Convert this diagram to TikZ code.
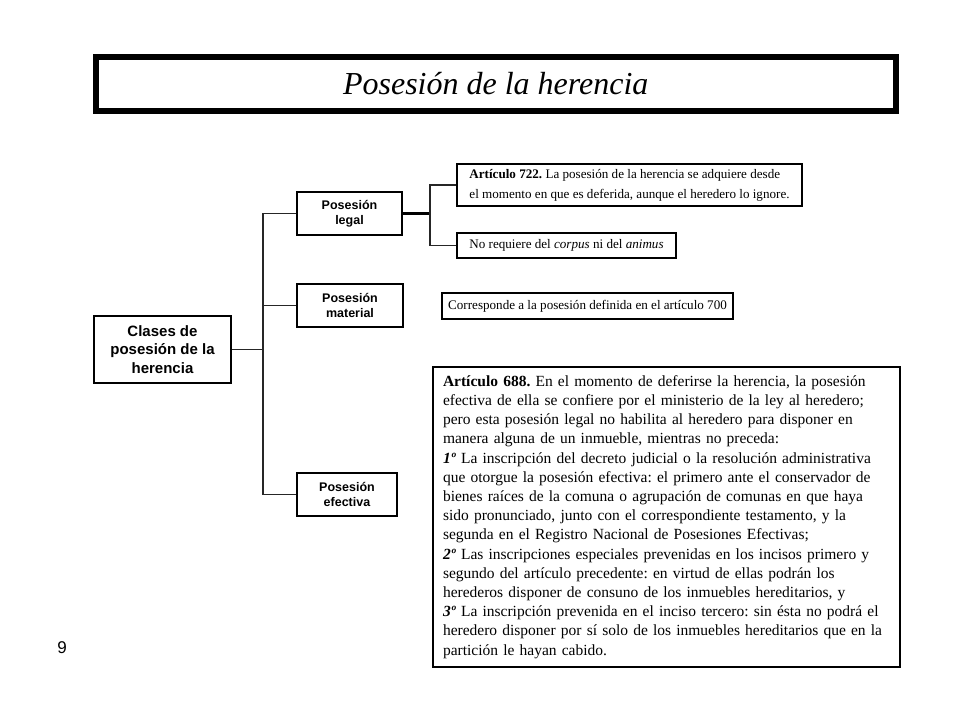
\documentclass[tikz,border=0pt]{standalone}
\usepackage{fontspec}
\setmainfont{Liberation Serif}
\setsansfont{Liberation Sans}
\frenchspacing
\begin{document}
\begin{tikzpicture}[x=1pt,y=-1pt,
  box/.style={draw=black,line width=1.2pt,fill=white,inner sep=0pt,align=center},
  sbox/.style={box,font=\sffamily\bfseries\fontsize{12.5}{15.5}\selectfont},
  tbox/.style={box,font=\fontsize{13.1}{16.5}\selectfont},
  conn/.style={line width=1.2pt,draw=black!85}
]
\useasboundingbox (0,0) rectangle (960,720);
% title
\node[draw=black,line width=6pt,minimum width=800.5pt,minimum height=53.5pt,inner sep=0pt,
      font=\itshape\fontsize{32}{36}\selectfont] (title) at (495.75,83.75) {Posesión de la herencia};
% left nodes
\node[box,font=\sffamily\bfseries\fontsize{15}{18.5}\selectfont,minimum width=137pt,minimum height=67pt] (clases) at (162.5,349.5) {Clases de\\posesión de la\\herencia};
\node[sbox,minimum width=105pt,minimum height=43pt] (legal) at (349.5,213.5) {Posesión\\legal};
\node[sbox,minimum width=106pt,minimum height=43pt] (material) at (350,305.5) {Posesión\\material};
\node[sbox,minimum width=100pt,minimum height=43pt] (efectiva) at (347,494.5) {Posesión\\efectiva};
% right nodes
\node[tbox,align=left,minimum width=345pt,minimum height=42pt,
      font=\fontsize{13.1}{20}\selectfont] (a722) at (629.5,185)
  {\textbf{Artículo 722.} La posesión de la herencia se adquiere desde\\el momento en que es deferida, aunque el heredero lo ignore.};
\node[tbox,minimum width=219pt,minimum height=25pt] (noreq) at (566.5,245.5)
  {No requiere del \textit{corpus} ni del \textit{animus}};
\node[tbox,minimum width=291pt,minimum height=26pt] (corr) at (587.5,306)
  {Corresponde a la posesión definida en el artículo 700};
\node[box,align=left,text width=447pt,inner xsep=10pt,minimum height=300pt,
      font=\fontsize{15.5}{19.2}\selectfont] (a688) at (666.5,517)
  {\textbf{Artículo 688.} En el momento de deferirse la herencia, la posesión\\
   efectiva de ella se confiere por el ministerio de la ley al heredero;\\
   pero esta posesión legal no habilita al heredero para disponer en\\
   manera alguna de un inmueble, mientras no preceda:\\
   \textbf{\textit{1º}} La inscripción del decreto judicial o la resolución administrativa\\
   que otorgue la posesión efectiva: el primero ante el conservador de\\
   bienes raíces de la comuna o agrupación de comunas en que haya\\
   sido pronunciado, junto con el correspondiente testamento, y la\\
   segunda en el Registro Nacional de Posesiones Efectivas;\\
   \textbf{\textit{2º}} Las inscripciones especiales prevenidas en los incisos primero y\\
   segundo del artículo precedente: en virtud de ellas podrán los\\
   herederos disponer de consuno de los inmuebles hereditarios, y\\
   \textbf{\textit{3º}} La inscripción prevenida en el inciso tercero: sin ésta no podrá el\\
   heredero disponer por sí solo de los inmuebles hereditarios que en la\\
   partición le hayan cabido.};
% page number
\node[font=\sffamily\fontsize{17}{20}\selectfont,inner sep=0pt] (pnum) at (62,648) {9};
% connectors
\coordinate (tk) at (263,349.5);
\coordinate (lb) at (430,213.5);
\draw[conn] (clases.east) -- (tk);
\draw[conn] (legal.west) -| (tk);
\draw[conn] (efectiva.west) -| (tk);
\draw[conn] (material.west) -- (material.west -| tk);
\draw[line width=2.2pt] (legal.east) -- (lb);
\draw[conn] (a722.west) -| (lb);
\draw[conn] (noreq.west) -| (lb);
\end{tikzpicture}
\end{document}
